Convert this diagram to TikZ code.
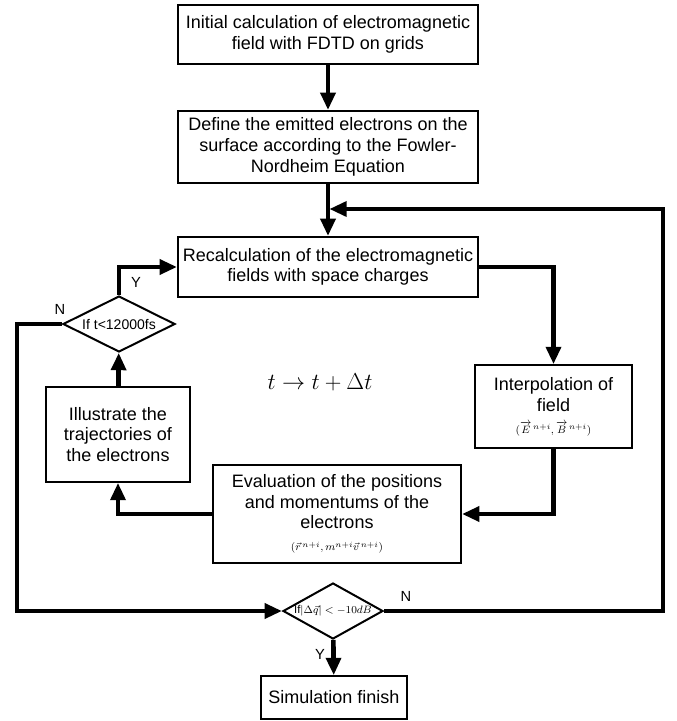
\documentclass[tikz,border=0pt]{standalone}
\usepackage{amsmath, amssymb}
\usepackage{fontspec}
\setmainfont{Liberation Sans}
\usepackage{tikz}
\usetikzlibrary{arrows.meta, shapes.geometric}

\tikzset{
  box/.style={draw, line width=1.5pt, rectangle, align=center, inner sep=1pt,
    font=\fontsize{13.5}{15.5}\selectfont},
  decision/.style={draw, line width=1.5pt, diamond, inner sep=0pt},
  flow/.style={line width=3.5pt, -{Triangle[length=13pt,width=11pt]}},
  lbl/.style={inner sep=0.75pt, font=\fontsize{11}{13}\selectfont}
}

\begin{document}
\begin{tikzpicture}[x=0.75pt,y=0.75pt,yscale=-1,xscale=1]
        \useasboundingbox (0,0) rectangle (676,721);

        % Boxes
        \node (init) [box, minimum width=225pt, minimum height=44pt] at (328,34.5)
          {Initial calculation of electromagnetic\\field with FDTD on grids};
        \node (emit) [box, minimum width=225pt, minimum height=54pt] at (328,147)
          {Define the emitted electrons on the\\surface according to the Fowler-\\Nordheim Equation};
        \node (recalc) [box, minimum width=225pt, minimum height=45pt] at (328,267)
          {Recalculation of the electromagnetic\\fields with space charges};
        \node (interp) [box, minimum width=118pt, minimum height=62pt] at (553.5,406.5)
          {Interpolation of\\field\\[1pt]{\footnotesize$(\overrightarrow{E}^{\,n+i},\overrightarrow{B}^{\,n+i})$}};
        \node (evalpos) [box, minimum width=186pt, minimum height=73.5pt] at (337,514)
          {Evaluation of the positions\\and momentums of the\\electrons\\[1pt]{\footnotesize$(\vec{r}^{\,n+i},m^{n+i}\vec{v}^{\,n+i})$}};
        \node (illus) [box, minimum width=108pt, minimum height=71pt] at (118,434.5)
          {Illustrate the\\trajectories of\\the electrons};
        \node (finish) [box, minimum width=109.5pt, minimum height=32pt] at (334,697.5)
          {Simulation finish};

        % Decisions
        \node (tcheck) [decision, minimum width=84pt, minimum height=42pt,
          label={center:{\fontsize{10.5}{12}\selectfont If t<12000fs}}] at (119,324) {};
        \node (qcheck) [decision, minimum width=75pt, minimum height=42pt,
          label={center:{\fontsize{8.5}{10}\selectfont If$\left|\Delta\vec{q}\right|<-10dB$}}] at (333,611) {};

        % Text Node
        \node (tstep) at (320,382) {\fontsize{17}{20}\selectfont$t\rightarrow t+\Delta t$};

        \coordinate (nleft) at (17,611);
        \coordinate (nright) at (663,209);

        %Straight Lines
        \draw [flow] (init) -- (emit);
        \draw [flow] (emit) -- (recalc);
        \draw [flow] (recalc.east) -| (interp.north);
        \draw [flow] (interp.south) |- (evalpos.east);
        \draw [flow] (evalpos.west) -| (illus.south);
        \draw [flow] (illus) -- (tcheck);
        \draw [flow] (tcheck.north) |- (recalc.west);
        \draw [flow] (tcheck.west) -| (nleft) -- (qcheck.west);
        \draw [flow, shorten >=1pt] (qcheck.east) -| (nright) -- (emit.south |- nright);
        \draw [flow] (qcheck) -- (finish);

        % Text Node
        \node (tyes) [lbl] at (136,282) {Y};
        \node (tno) [lbl] at (60,309) {N};
        \node (qno) [lbl] at (406,596) {N};
        \node (qyes) [lbl] at (320,654) {Y};
\end{tikzpicture}
\end{document}
